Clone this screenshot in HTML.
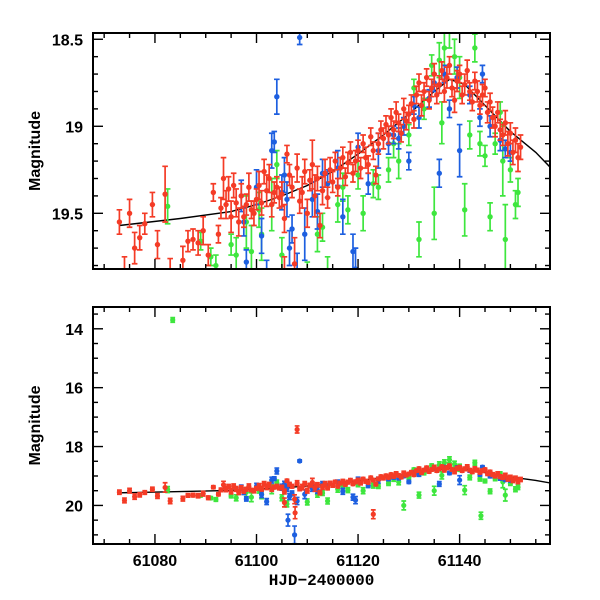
<!DOCTYPE html>
<html><head><meta charset="utf-8"><style>
body{margin:0;background:#fff}
svg{display:block}
text{font-family:"Liberation Sans",sans-serif;font-size:16px;font-weight:bold;fill:#000}
</style></head><body>
<svg id="chart" width="600" height="600" viewBox="0 0 600 600" xmlns="http://www.w3.org/2000/svg">
<defs>
<clipPath id="clipTop"><rect x="93" y="33" width="457" height="236"/></clipPath>
<clipPath id="clipBot"><rect x="93" y="307" width="457" height="237"/></clipPath>
</defs>
</svg>
<script>
// Model curve
const modelT=[61073,61085,61095,61100,61105,61110,61115,61120,61125,61130,61135,61138,61141,61145,61150,61155,61158];
const modelM=[19.57,19.53,19.49,19.45,19.40,19.34,19.26,19.16,19.05,18.93,18.80,18.73,18.76,18.88,19.03,19.15,19.24];
// Red series
const redT=[61073,61074,61075,61076,61077,61078,61079.5,61080.5,61082,61083,61085.5,61086.5,61087.5,61088.5,61089.5,61090.5,61091.5,61092.5,61093,61093.5,61094,61094.5,61095,61095.5,61096,61096.5,61097,61097.5,61098,61098.5,61099,61099.5,61100,61100.5,61101,61101.5,61102,61102.5,61103,61103.5,61104,61104.5,61105,61105.5,61106,61106.5,61107,61107.5,61108,61108.5,61109,61109.5,61110,61110.5,61111,61111.5,61112,61112.5,61113,61113.5,61114,61114.5,61115,61115.5,61116,61116.5,61117,61117.5,61118,61118.5,61119,61119.5,61120,61120.5,61121,61121.5,61122,61122.5,61123,61123.5,61124,61124.5,61125,61125.5,61126,61126.5,61127,61127.5,61128,61128.5,61129,61129.5,61130,61130.5,61131,61131.5,61132,61132.5,61133,61133.5,61134,61134.5,61135,61135.5,61136,61136.5,61137,61137.5,61138,61138.5,61139,61139.5,61140,61140.5,61141,61141.5,61142,61142.5,61143,61143.5,61144,61144.5,61145,61145.5,61146,61146.5,61147,61147.5,61148,61148.5,61149,61149.5,61150,61150.5,61151,61151.5,61152,61108,61107.6,61123,61105.5];
const redM=[19.55,19.83,19.50,19.70,19.64,19.56,19.45,19.68,19.39,19.85,19.77,19.66,19.65,19.67,19.60,19.74,19.38,19.62,19.47,19.30,19.45,19.36,19.52,19.34,19.44,19.55,19.40,19.52,19.45,19.35,19.48,19.50,19.42,19.34,19.44,19.26,19.37,19.30,19.45,19.38,19.35,19.41,19.39,19.53,19.16,19.28,19.35,19.79,19.24,19.43,19.38,19.26,19.50,19.31,19.22,19.40,19.30,19.57,19.37,19.27,19.41,19.25,19.32,19.20,19.35,19.24,19.18,19.29,19.21,19.15,19.27,19.20,19.14,19.24,19.10,19.18,19.22,19.06,19.14,19.28,19.10,19.02,19.07,18.99,19.05,18.95,19.02,18.92,18.98,19.04,18.90,18.97,18.93,18.87,18.96,18.82,18.75,18.88,18.80,18.72,18.85,18.78,18.70,18.82,18.76,18.68,18.80,18.72,18.65,18.78,18.85,18.74,18.70,18.82,18.76,18.68,18.80,18.86,18.74,18.80,18.88,18.82,18.78,18.92,18.86,18.95,19.00,18.92,19.02,19.05,18.98,19.10,19.04,19.15,19.08,19.18,19.12,17.42,20.25,20.30,19.90];
const redE=[.07,.08,.08,.09,.07,.06,.07,.08,.16,.09,.08,.06,.06,.07,.08,.06,.05,.05,.06,.12,.08,.07,.09,.07,.08,.08,.07,.06,.06,.08,.05,.07,.06,.08,.07,.07,.09,.08,.07,.06,.06,.06,.07,.08,.05,.06,.06,.15,.08,.07,.09,.07,.08,.06,.14,.12,.07,.07,.08,.08,.06,.07,.06,.05,.05,.06,.06,.05,.06,.06,.05,.06,.06,.06,.05,.06,.05,.05,.05,.05,.06,.05,.06,.05,.05,.05,.05,.06,.05,.05,.06,.05,.05,.05,.05,.05,.05,.06,.05,.05,.05,.05,.06,.05,.05,.05,.06,.06,.05,.05,.07,.06,.05,.05,.06,.06,.05,.05,.05,.06,.05,.06,.05,.06,.05,.06,.06,.06,.06,.06,.07,.07,.06,.07,.07,.08,.07,.12,.2,.15,.15];
// Blue series
const blueT=[61097,61097.5,61098,61100,61101,61102,61103,61103.5,61104,61105,61105.5,61106,61106.5,61107,61108,61108.5,61109.5,61111,61112,61113,61114,61116,61117,61119,61119.5,61120,61122,61124,61126,61127,61128,61129,61130,61131,61132,61134,61135,61136,61137,61138,61139.5,61140,61142,61144,61144.5,61146,61148,61149,61150,61107.5,61106.2];
const blueM=[19.40,19.55,19.78,19.35,19.63,19.87,19.14,19.09,18.83,19.38,19.28,19.42,19.70,19.59,19.85,18.49,19.62,19.42,19.49,19.27,19.33,19.24,19.52,19.72,19.82,19.12,19.33,19.14,19.10,19.05,19.07,19.00,19.20,18.88,18.95,18.84,18.75,19.27,18.70,18.90,18.72,19.14,18.82,18.95,18.70,19.00,19.08,19.13,19.15,21.0,20.5];
const blueE=[.09,.08,.07,.1,.1,.1,.1,.06,.1,.1,.1,.1,.1,.08,.12,.04,.15,.1,.1,.08,.08,.1,.1,.1,.12,.08,.06,.1,.06,.05,.06,.05,.05,.05,.06,.05,.05,.08,.05,.05,.06,.15,.05,.05,.05,.06,.06,.05,.05,.3,.2];
// Green series
const greenT=[61082.5,61083.5,61089,61091,61092,61095,61096,61098,61099,61100.5,61101,61103,61104,61105,61106,61110,61112,61113,61114,61116,61117,61118,61120,61121,61123,61124,61126,61127,61128,61130,61131,61132,61133,61134.5,61135,61136,61136.5,61137,61138,61139,61140,61141,61142,61143,61144,61145,61146,61147,61148,61148.5,61149,61150,61151,61151.5,61129,61144.2];
const greenM=[19.46,13.70,19.66,19.75,19.80,19.68,19.74,19.55,19.72,19.48,19.62,19.45,19.22,19.74,19.95,19.88,19.62,19.58,19.85,19.45,19.35,19.48,19.28,19.50,19.33,19.35,19.25,19.10,19.20,19.05,18.78,19.65,18.90,18.65,19.50,18.62,18.98,18.55,18.45,18.60,18.72,19.48,19.05,18.55,19.10,19.17,19.52,19.10,18.92,19.20,19.65,19.25,19.45,19.38,20.0,20.35];
const greenE=[.1,.08,.05,.05,.06,.06,.1,.15,.15,.1,.15,.15,.08,.1,.1,.1,.1,.08,.1,.1,.08,.08,.08,.1,.08,.07,.07,.08,.1,.06,.05,.1,.06,.06,.15,.1,.12,.1,.1,.1,.12,.15,.08,.08,.07,.06,.08,.06,.06,.2,.2,.07,.08,.08,.15,.12];
const xTicks=[61080,61100,61120,61140];
const topYTicks=[18.5,19,19.5];
const botYTicks=[14,16,18,20];

const NS='http://www.w3.org/2000/svg';
const svg=document.getElementById('chart');
const X0=93,X1=550,T0=61067.8,T1=61157.8;
function xs(t){return X0+(t-T0)/(T1-T0)*(X1-X0);}
const panels=[
 {name:'top-panel',y0:33,y1:269,m0:18.464,m1:19.82,clip:'clipTop',minor:0.1,major:0.5,ticks:topYTicks,r:2.7,cap:2.8,labels:false},
 {name:'bottom-panel',y0:307,y1:544,m0:13.26,m1:21.31,clip:'clipBot',minor:0.5,major:2,ticks:botYTicks,r:2.6,cap:2.4,labels:true}
];
function mk(tag,attrs,parent){const e=document.createElementNS(NS,tag);for(const k in attrs)e.setAttribute(k,attrs[k]);(parent||svg).appendChild(e);return e;}
const series=[
 {name:'green',T:greenT,M:greenM,E:greenE,c:'#3ee63e'},
 {name:'blue',T:blueT,M:blueM,E:blueE,c:'#1d5fe0'},
 {name:'red',T:redT,M:redM,E:redE,c:'#f43b26'}
];
panels.forEach(p=>{
 const ys=m=>p.y0+(m-p.m0)/(p.m1-p.m0)*(p.y1-p.y0);
 const g=mk('g',{});
 
 
 const dg=mk('g',{'clip-path':'url(#'+p.clip+')'},g);
 let d='';modelT.forEach((t,i)=>{d+=(i?'L':'M')+xs(t).toFixed(1)+','+ys(modelM[i]).toFixed(1);});
 const ml=mk('path',{d:d,fill:'none',stroke:'#000','stroke-width':1.4},dg);
 
 
 series.forEach(s=>{
  const sg=mk('g',{stroke:s.c,fill:s.c,'stroke-width':1.7},dg);
  
  
  s.T.forEach((t,i)=>{
   const x=xs(t),y=ys(s.M[i]),ya=ys(s.M[i]-s.E[i]),yb=ys(s.M[i]+s.E[i]);
   mk('path',{d:`M${x},${ya}L${x},${yb}M${x-p.cap},${ya}L${x+p.cap},${ya}M${x-p.cap},${yb}L${x+p.cap},${yb}`,fill:'none'},sg);
   const c=mk('circle',{cx:x,cy:y,r:p.r,stroke:'none'},sg);
   
   
  });
 });
 const fr=mk('rect',{x:X0,y:p.y0,width:X1-X0,height:p.y1-p.y0,fill:'none',stroke:'#000','stroke-width':2},g);
 
 
 for(let t=61070;t<=T1;t+=5){
  const x=xs(t),L=(t%20===0)?10:5;
  mk('line',{x1:x,x2:x,y1:p.y1,y2:p.y1-L,stroke:'#000','stroke-width':1.4},g);
  mk('line',{x1:x,x2:x,y1:p.y0,y2:p.y0+L,stroke:'#000','stroke-width':1.4},g);
 }
 const n0=Math.ceil(p.m0/p.minor-1e-6),n1=Math.floor(p.m1/p.minor+1e-6);
 for(let n=n0;n<=n1;n++){
  const m=n*p.minor,y=ys(m),maj=Math.abs(m/p.major-Math.round(m/p.major))<1e-6,L=maj?10:5;
  mk('line',{x1:X0,x2:X0+L,y1:y,y2:y,stroke:'#000','stroke-width':1.4},g);
  mk('line',{x1:X1,x2:X1-L,y1:y,y2:y,stroke:'#000','stroke-width':1.4},g);
 }
 p.ticks.forEach(v=>{
  const tx=mk('text',{x:83,y:ys(v)+6,'text-anchor':'end'},g);tx.textContent=String(v);
  
  
 });
 const yl=mk('text',{x:0,y:0,'text-anchor':'middle',transform:`translate(40,${(p.y0+p.y1)/2}) rotate(-90)`,'font-size':'15'},g);
 yl.textContent='Magnitude';
 
 
 if(p.labels){
  xTicks.forEach(t=>{
   const tx=mk('text',{x:xs(t),y:p.y1+22,'text-anchor':'middle'},g);tx.textContent=String(t);
   
   
  });
  const xl=mk('text',{x:(X0+X1)/2,y:p.y1+41,'text-anchor':'middle',style:'font-family:"Liberation Mono",monospace;font-size:16px;font-weight:bold'},g);
  xl.textContent='HJD\u22122400000';
  
  
 }
});
</script>
</body></html>
